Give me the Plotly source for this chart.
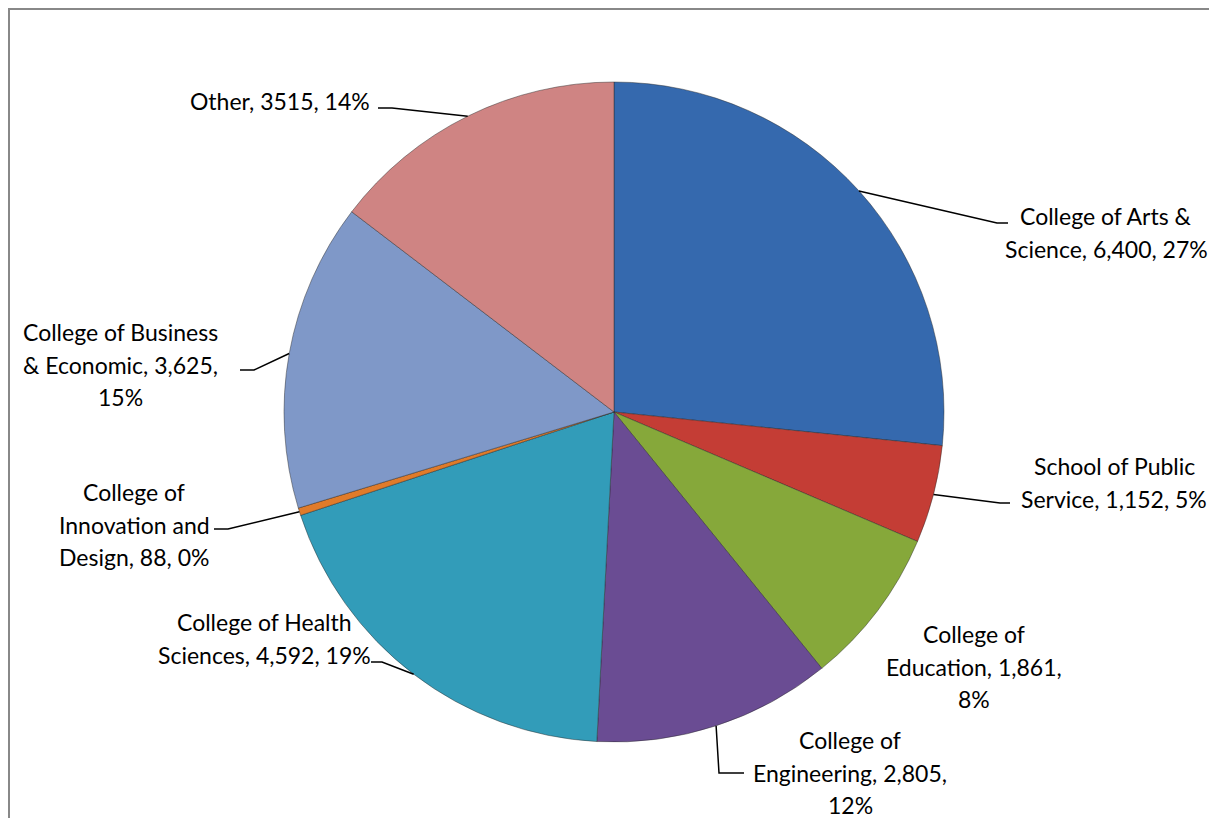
import math
import plotly.graph_objects as go

# ---- data ----
labels = [
    "College of Arts & Science",
    "School of Public Service",
    "College of Education",
    "College of Engineering",
    "College of Health Sciences",
    "College of Innovation and Design",
    "College of Business & Economic",
    "Other",
]
values = [6400, 1152, 1861, 2805, 4592, 88, 3625, 3515]
value_text = ["6,400", "1,152", "1,861", "2,805", "4,592", "88", "3,625", "3515"]
pct_text = ["27%", "5%", "8%", "12%", "19%", "0%", "15%", "14%"]
colors = ["#3569AE", "#C43D35", "#86A83A", "#6A4C93", "#329CB9", "#E07B2A", "#7F98C8", "#CF8483"]

# label line breaks (as in the reference)
label_lines = [
    ["College of Arts &", "Science, {v}, {p}"],
    ["School of Public", "Service, {v}, {p}"],
    ["College of", "Education, {v},", "{p}"],
    ["College of", "Engineering, {v},", "{p}"],
    ["College of Health", "Sciences, {v}, {p}"],
    ["College of", "Innovation and", "Design, {v}, {p}"],
    ["College of Business", "& Economic, {v},", "{p}"],
    ["Other, {v}, {p}"],
]

# ---- layout geometry (screen pixels of the page) ----
W, H = 1217, 818
OFF = 8  # page body margin: figure starts at (8, 8) on screen
CX, CY, R = 614, 412, 330
LINE = 32.5
label_pos = [
    (1106, 216),
    (1114, 466),
    (974, 634),
    (850, 740),
    (264, 622),
    (134, 492),
    (120, 332),
    (280, 101),
]
leader_pts = [
    [(997, 223), (1008, 223)],
    [(1000, 503), (1010, 503)],
    None,
    [(719, 773), (744, 773)],
    [(382, 662), (371, 662)],
    [(228, 529), (214, 529)],
    [(254, 370), (240, 370)],
    [(392, 108), (378, 108)],
]

total = sum(values)

fig = go.Figure()
fig.add_trace(go.Pie(
    labels=labels,
    values=values,
    sort=False,
    direction="clockwise",
    rotation=0,
    textinfo="none",
    hoverinfo="label+value+percent",
    marker=dict(colors=colors, line=dict(color="rgba(40,40,40,0.45)", width=1)),
    domain=dict(x=[(CX - R - OFF) / W, (CX + R - OFF) / W],
                y=[1 - (CY + R - OFF) / H, 1 - (CY - R - OFF) / H]),
    showlegend=False,
))
fig.add_trace(go.Scatter(x=[None], y=[None], mode="markers", showlegend=False, hoverinfo="skip"))

shapes = []
annotations = []
cum = 0
for i, v in enumerate(values):
    mid = (cum + v / 2) / total * 2 * math.pi
    cum += v
    px = CX + R * math.sin(mid)
    py = CY - R * math.cos(mid)
    if leader_pts[i]:
        path = "M {:.1f},{:.1f}".format(px, py)
        for (lx, ly) in leader_pts[i]:
            path += " L {},{}".format(lx, ly)
        shapes.append(dict(type="path", path=path, xref="x", yref="y",
                           line=dict(color="black", width=1.5)))
    lx0, ly0 = label_pos[i]
    for j, ln in enumerate(label_lines[i]):
        txt = ln.format(v=value_text[i], p=pct_text[i])
        annotations.append(dict(
            x=lx0, y=ly0 + j * LINE, xref="x", yref="y", text=txt,
            showarrow=False, xanchor="center", yanchor="middle",
            font=dict(family="Lato, Carlito, sans-serif", size=23, color="black"),
        ))

# chart frame (top and left edges visible; the rest runs off the page)
shapes.append(dict(type="rect", xref="x", yref="y", x0=9, y0=9, x1=W + 40, y1=H + 40,
                   line=dict(color="#888888", width=2), fillcolor="rgba(0,0,0,0)", layer="below"))

fig.update_layout(
    width=W, height=H,
    margin=dict(l=0, r=0, t=0, b=0),
    paper_bgcolor="white", plot_bgcolor="rgba(0,0,0,0)",
    xaxis=dict(range=[OFF, W + OFF], visible=False, domain=[0, 1], fixedrange=True),
    yaxis=dict(range=[H + OFF, OFF], visible=False, domain=[0, 1], fixedrange=True),
    shapes=shapes,
    annotations=annotations,
)

fig.write_html("out.html")
